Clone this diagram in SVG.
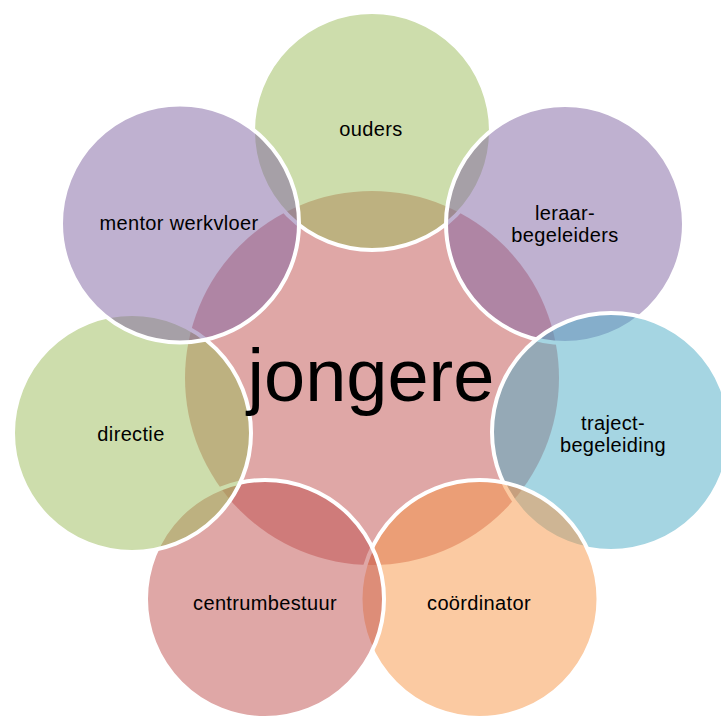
<svg xmlns="http://www.w3.org/2000/svg" width="721" height="716" viewBox="0 0 721 716">
<style>
.c{stroke:#ffffff;stroke-width:4;fill-opacity:0.5}
.red{fill:#C0504D}
.green{fill:#9BBB59}
.purple{fill:#8064A2}
.blue{fill:#4BACC6}
.orange{fill:#F79646}
.t{font-family:"Liberation Sans",Arial,sans-serif;font-size:20px;letter-spacing:0.35px;fill:#000000;text-anchor:middle}
.big{font-family:"Liberation Sans",Arial,sans-serif;font-size:74px;fill:#000000;text-anchor:middle}
</style>
<rect width="721" height="716" fill="#ffffff"/>
<g id="jongere">
<circle cx="372" cy="378" r="187" class="red" fill-opacity="0.5"/>
</g>
<g id="ouders">
<circle cx="372" cy="131" r="119" class="c green"/>
</g>
<g id="leraar-begeleiders">
<circle cx="565" cy="224" r="119" class="c purple"/>
</g>
<g id="traject-begeleiding">
<circle cx="611" cy="432" r="119" class="c blue"/>
</g>
<g id="coordinator">
<circle cx="479.5" cy="599" r="119" class="c orange"/>
</g>
<g id="centrumbestuur">
<circle cx="265" cy="599" r="119" class="c red"/>
</g>
<g id="directie">
<circle cx="132" cy="433" r="119" class="c green"/>
</g>
<g id="mentor-werkvloer">
<circle cx="180" cy="223.5" r="119" class="c purple"/>
</g>
<g id="labels">
<text x="371" y="401" class="big">jongere</text>
<text x="371" y="136" class="t">ouders</text>
<text x="565" y="220" class="t">leraar-</text>
<text x="565" y="241.5" class="t">begeleiders</text>
<text x="613" y="430" class="t">traject-</text>
<text x="613" y="451.5" class="t">begeleiding</text>
<text x="479" y="610" class="t">coördinator</text>
<text x="265" y="610" class="t">centrumbestuur</text>
<text x="131" y="440.5" class="t">directie</text>
<text x="179" y="230" class="t">mentor werkvloer</text>
</g>
<g id="connectors"/>
</svg>
